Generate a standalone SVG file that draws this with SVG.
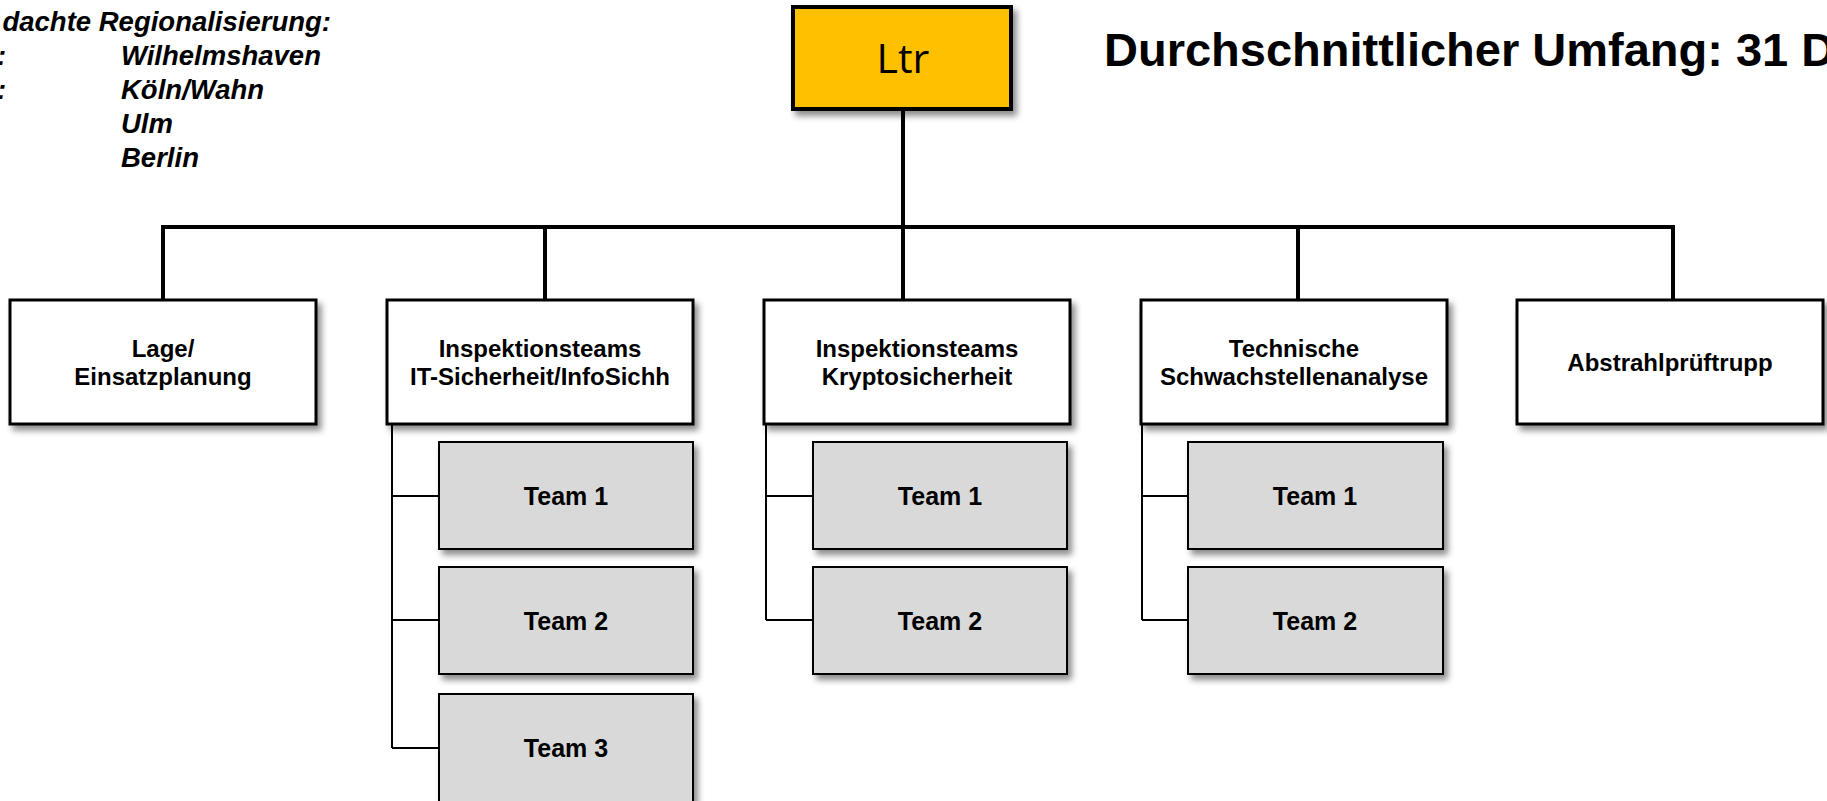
<svg xmlns="http://www.w3.org/2000/svg" width="1827" height="801" viewBox="0 0 1827 801">
<style>
  .box { fill: #ffffff; stroke: #000000; stroke-width: 3; }
  .team { fill: #d9d9d9; stroke: #000000; stroke-width: 2; }
  .ltr { fill: #ffc000; stroke: #000000; stroke-width: 4; }
  .lbl { font-family: "Liberation Sans", Arial, sans-serif; font-weight: bold; font-size: 24px; fill: #000; text-anchor: middle; }
  .tlbl { font-family: "Liberation Sans", Arial, sans-serif; font-weight: bold; font-size: 25px; fill: #000; text-anchor: middle; }
  .reg { font-family: "Liberation Sans", Arial, sans-serif; font-weight: bold; font-style: italic; font-size: 27.5px; fill: #000; }
  .title { font-family: "Liberation Sans", Arial, sans-serif; font-weight: bold; font-size: 47px; fill: #000; }
  .main { stroke: #000; stroke-width: 4; fill: none; }
  .sub { stroke: #000; stroke-width: 2; fill: none; }
</style>
<defs>
  <filter id="sh" x="-10%" y="-10%" width="130%" height="140%">
    <feDropShadow dx="4" dy="5" stdDeviation="3" flood-color="#000" flood-opacity="0.45"/>
  </filter>
</defs>
<rect width="1827" height="801" fill="#ffffff"/>

<g id="regional">
  <text class="reg" x="331" y="31" text-anchor="end">dachte Regionalisierung:</text>
  <text class="reg" x="-3" y="65">:</text>
  <text class="reg" x="121" y="65">Wilhelmshaven</text>
  <text class="reg" x="-3" y="99">:</text>
  <text class="reg" x="121" y="99">Köln/Wahn</text>
  <text class="reg" x="121" y="133">Ulm</text>
  <text class="reg" x="121" y="167">Berlin</text>
</g>

<g id="title">
  <text class="title" x="1104" y="66">Durchschnittlicher Umfang: 31 D</text>
</g>

<g id="connectors">
  <path class="main" d="M903 109 V227 M161 227 H1675 M163 227 V300 M545 227 V300 M903 227 V300 M1298 227 V300 M1673 227 V300"/>
  <path class="sub" d="M392 424 V748 M392 496 H439 M392 620 H439 M392 748 H439"/>
  <path class="sub" d="M766 424 V620 M766 496 H813 M766 620 H813"/>
  <path class="sub" d="M1142 424 V620 M1142 496 H1188 M1142 620 H1188"/>
</g>

<g id="ltr">
  <rect class="ltr" x="793" y="7" width="218" height="102" filter="url(#sh)"/>
  <text x="903" y="73" font-family="'Open Sans', 'Noto Sans', sans-serif" font-size="41" text-anchor="middle" fill="#000">Ltr</text>
</g>

<g id="lage">
  <rect class="box" x="10" y="300" width="306" height="124" filter="url(#sh)"/>
  <text class="lbl" x="163" y="357">Lage/</text>
  <text class="lbl" x="163" y="385">Einsatzplanung</text>
</g>

<g id="it">
  <rect class="box" x="387" y="300" width="306" height="124" filter="url(#sh)"/>
  <text class="lbl" x="540" y="357">Inspektionsteams</text>
  <text class="lbl" x="540" y="385">IT-Sicherheit/InfoSichh</text>
</g>

<g id="krypto">
  <rect class="box" x="764" y="300" width="306" height="124" filter="url(#sh)"/>
  <text class="lbl" x="917" y="357">Inspektionsteams</text>
  <text class="lbl" x="917" y="385">Kryptosicherheit</text>
</g>

<g id="technik">
  <rect class="box" x="1141" y="300" width="306" height="124" filter="url(#sh)"/>
  <text class="lbl" x="1294" y="357">Technische</text>
  <text class="lbl" x="1294" y="385">Schwachstellenanalyse</text>
</g>

<g id="abstrahl">
  <rect class="box" x="1517" y="300" width="306" height="124" filter="url(#sh)"/>
  <text class="lbl" x="1670" y="371">Abstrahlprüftrupp</text>
</g>

<g id="it-team1">
  <rect class="team" x="439" y="442" width="254" height="107" filter="url(#sh)"/>
  <text class="tlbl" x="566" y="505">Team 1</text>
</g>
<g id="it-team2">
  <rect class="team" x="439" y="567" width="254" height="107" filter="url(#sh)"/>
  <text class="tlbl" x="566" y="630">Team 2</text>
</g>
<g id="it-team3">
  <rect class="team" x="439" y="694" width="254" height="120" filter="url(#sh)"/>
  <text class="tlbl" x="566" y="757">Team 3</text>
</g>

<g id="kr-team1">
  <rect class="team" x="813" y="442" width="254" height="107" filter="url(#sh)"/>
  <text class="tlbl" x="940" y="505">Team 1</text>
</g>
<g id="kr-team2">
  <rect class="team" x="813" y="567" width="254" height="107" filter="url(#sh)"/>
  <text class="tlbl" x="940" y="630">Team 2</text>
</g>

<g id="te-team1">
  <rect class="team" x="1188" y="442" width="255" height="107" filter="url(#sh)"/>
  <text class="tlbl" x="1315" y="505">Team 1</text>
</g>
<g id="te-team2">
  <rect class="team" x="1188" y="567" width="255" height="107" filter="url(#sh)"/>
  <text class="tlbl" x="1315" y="630">Team 2</text>
</g>
</svg>
